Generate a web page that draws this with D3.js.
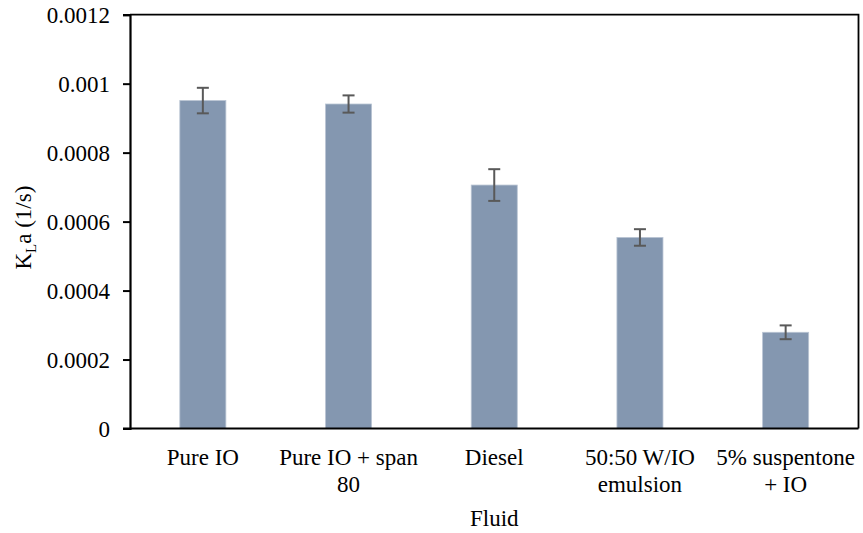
<!DOCTYPE html>
<html>
<head>
<meta charset="utf-8">
<script src="https://cdn.jsdelivr.net/npm/d3@7"></script>
<style>
  html, body { margin: 0; padding: 0; background: #fff; }
  text { font-family: 'Liberation Serif'; }
</style>
</head>
<body>
<svg id="chart" width="863" height="533" font-family="Liberation Serif"></svg>
<script>
const categories = ["Pure IO", "Pure IO + span 80", "Diesel", "50:50 W/IO emulsion", "5% suspentone + IO"];
const categoryLines = [["Pure IO"], ["Pure IO + span", "80"], ["Diesel"], ["50:50 W/IO", "emulsion"], ["5% suspentone", "+ IO"]];
const kla = [0.000951, 0.000941, 0.000706, 0.000554, 0.000279];
const klaError = [0.000037, 0.000025, 0.000046, 0.000024, 0.000020];
const yTicks = [0, 0.0002, 0.0004, 0.0006, 0.0008, 0.001, 0.0012];
const yTickLabels = ["0", "0.0002", "0.0004", "0.0006", "0.0008", "0.001", "0.0012"];
const xTitle = "Fluid";

const FONT = "Liberation Serif";
const svg = d3.select("#chart");
const m = { left: 130, right: 858.5, top: 14.7, bottom: 428.5 };
const fs = 23;

const x = d3.scaleBand().domain(categories).range([m.left, m.right]).paddingInner(0.684).paddingOuter(0.342);
const y = d3.scaleLinear().domain([0, 0.0012]).range([m.bottom, m.top]);

// bars
svg.append("g").selectAll("rect").data(categories).join("rect")
  .attr("x", d => x(d))
  .attr("width", x.bandwidth())
  .attr("y", (d, i) => y(kla[i]))
  .attr("height", (d, i) => y(0) - y(kla[i]))
  .attr("fill", "#8497B0")
  .attr("stroke", "#b9c4d3")
  .attr("stroke-width", 0.8);

// error bars
const eg = svg.append("g").attr("stroke", "#595959").attr("stroke-width", 2).attr("fill", "none");
categories.forEach((c, i) => {
  const cx = x(c) + x.bandwidth() / 2;
  const yt = y(kla[i] + klaError[i]);
  const yb = y(kla[i] - klaError[i]);
  eg.append("line").attr("x1", cx).attr("x2", cx).attr("y1", yt).attr("y2", yb);
  eg.append("line").attr("x1", cx - 6).attr("x2", cx + 6).attr("y1", yt).attr("y2", yt);
  eg.append("line").attr("x1", cx - 6).attr("x2", cx + 6).attr("y1", yb).attr("y2", yb);
});

// frame top/right
svg.append("path")
  .attr("d", `M${m.left},${m.top}H${m.right}V${m.bottom}`)
  .attr("fill", "none").attr("stroke", "#000").attr("stroke-width", 1.8);

// y axis
const yAxis = d3.axisLeft(y).tickValues(yTicks).tickFormat((d, i) => yTickLabels[i]).tickSize(7).tickPadding(13);
const yg = svg.append("g").attr("transform", `translate(${m.left},0)`).call(yAxis);
yg.attr("font-family", FONT).attr("font-size", fs);
yg.select(".domain").attr("stroke", "#000").attr("stroke-width", 2.2);
yg.selectAll(".tick line").attr("stroke", "#000").attr("stroke-width", 2);
yg.selectAll(".tick text").attr("font-family", FONT).attr("fill", "#000").attr("dy", "0.36em");

// x axis
const xAxis = d3.axisBottom(x).tickSize(0).tickFormat("");
const xg = svg.append("g").attr("transform", `translate(0,${m.bottom})`).call(xAxis);
xg.select(".domain").attr("d", `M${m.left - 7},0H${m.right}`).attr("stroke", "#000").attr("stroke-width", 2.2);

// category labels
categories.forEach((c, i) => {
  const cx = x(c) + x.bandwidth() / 2;
  categoryLines[i].forEach((line, j) => {
    svg.append("text").attr("x", cx).attr("y", 465 + j * 27)
      .attr("text-anchor", "middle").attr("font-family", FONT).attr("font-size", fs)
      .attr("fill", "#000").text(line);
  });
});

// x title
svg.append("text").attr("x", (m.left + m.right) / 2).attr("y", 526)
  .attr("text-anchor", "middle").attr("font-family", FONT).attr("font-size", fs).attr("fill", "#000").text(xTitle);

// y title
const yt = svg.append("text").attr("transform", `translate(31,${(m.top + m.bottom) / 2 + 6}) rotate(-90)`)
  .attr("text-anchor", "middle").attr("font-family", FONT).attr("font-size", fs).attr("fill", "#000");
yt.append("tspan").text("K");
yt.append("tspan").attr("font-size", 15).attr("dy", 5).text("L");
yt.append("tspan").attr("dy", -5).text("a (1/s)");
</script>
</body>
</html>
